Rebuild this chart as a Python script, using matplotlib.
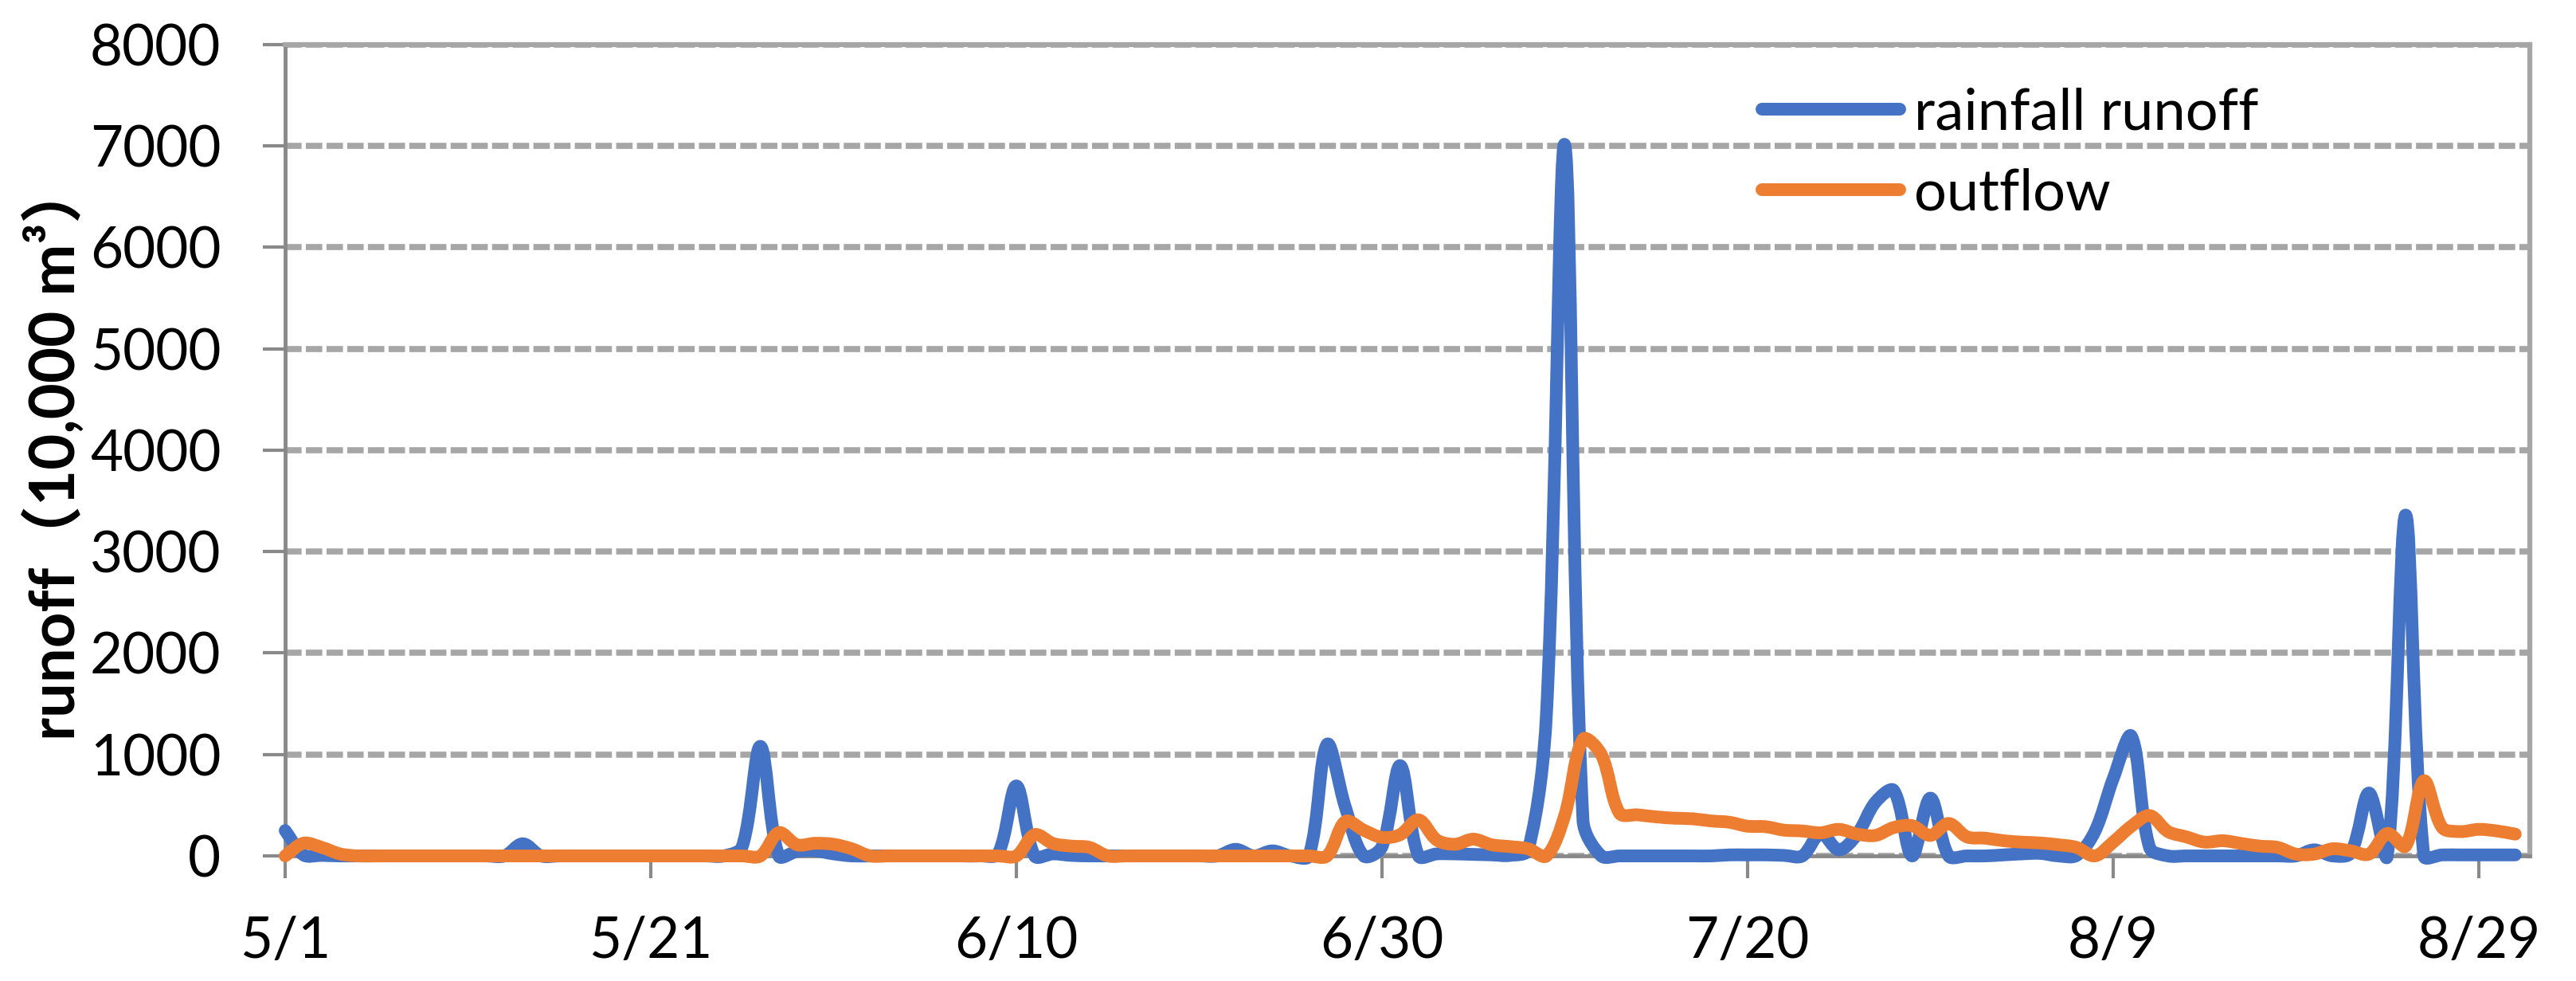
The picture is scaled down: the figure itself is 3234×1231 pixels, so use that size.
import numpy as np
import matplotlib
matplotlib.use('Agg')
import matplotlib.pyplot as plt
from matplotlib.path import Path
from matplotlib.patches import PathPatch
from matplotlib.lines import Line2D

plt.rcParams['font.family'] = ['Lato', 'Noto Sans CJK SC', 'DejaVu Sans']

# daily values, 5/1 .. 8/31 (10,000 m3)
runoff = [
    250, 10, 5, 0, 0, 0, 0, 0, 0, 0,
    0, 0, 0, 120, 0, 0, 0, 0, 0, 0,
    0, 0, 0, 0, 0, 90, 1080, 0, 45, 50,
    20, 0, 0, 0, 0, 0, 0, 0, 0, 20,
    690, 0, 20, 5, 0, 0, 0, 0, 0, 0,
    0, 0, 65, 0, 50, 0, 0, 1100, 480, 0,
    90, 890, 0, 20, 20, 15, 10, 5, 60, 1400,
    7010, 350, 0, 0, 0, 0, 0, 0, 0, 10,
    10, 10, 5, 0, 220, 60, 215, 530, 645, 0,
    570, 0, 0, 0, 10, 20, 25, 0, 5, 240,
    760, 1180, 80, 0, 0, 0, 0, 0, 0, 0,
    0, 60, 0, 30, 620, 0, 3360, 0, 10, 10,
    10, 10, 10]
outflow = [
    0, 125, 84, 20, 0, 0, 0, 0, 0, 0,
    0, 0, 0, 0, 0, 0, 0, 0, 0, 0,
    0, 0, 0, 0, 0, 0, 0, 230, 110, 125,
    115, 70, 0, 0, 0, 0, 0, 0, 0, 0,
    0, 210, 123, 97, 84, 0, 0, 0, 0, 0,
    0, 0, 0, 0, 0, 0, 0, 0, 340, 254,
    183, 210, 356, 157, 115, 165, 110, 92, 70, 0,
    400, 1150, 1000, 420, 405, 385, 372, 366, 345, 332,
    293, 288, 254, 246, 228, 262, 215, 202, 280, 298,
    202, 320, 188, 175, 150, 136, 128, 110, 84, 0,
    136, 293, 398, 240, 188, 136, 150, 123, 97, 84,
    18, 18, 70, 50, 18, 222, 97, 740, 280, 240,
    262, 246, 215]

tick_days = [0, 20, 40, 60, 80, 100, 120]
tick_labels = ['5/1', '5/21', '6/10', '6/30', '7/20', '8/9', '8/29']
series_names = ['rainfall runoff', 'outflow']
colors = ['#4472C4', '#ED7D31']

days = np.arange(len(runoff))

W, H = 3234, 1231
ax_rect = [0.1107, 0.1275, 0.8714, 0.8273]
xmax, ymax = 122.8, 8000


def smooth_path(x, y, sx, sy):
    # spreadsheet-style smoothed line: bezier segments, tangents scaled by chord length
    px = np.asarray(x, float) * sx
    py = np.asarray(y, float) * sy
    n = len(px)

    def dist(i, j):
        return np.hypot(px[j] - px[i], py[j] - py[i])

    verts = [(x[0], y[0])]
    codes = [Path.MOVETO]
    for i in range(n - 1):
        a = max(i - 1, 0)
        b = min(i + 2, n - 1)
        d01, d12, d23 = dist(a, i), dist(i, i + 1), dist(i + 1, b)
        f1 = d12 / (d01 + d12) if d01 + d12 > 0 else 0
        f2 = d12 / (d12 + d23) if d12 + d23 > 0 else 0
        c1 = (px[i] + (px[i + 1] - px[a]) * f1 / 3, py[i] + (py[i + 1] - py[a]) * f1 / 3)
        c2 = (px[i + 1] - (px[b] - px[i]) * f2 / 3, py[i + 1] - (py[b] - py[i]) * f2 / 3)
        verts += [(c1[0] / sx, c1[1] / sy), (c2[0] / sx, c2[1] / sy), (x[i + 1], y[i + 1])]
        codes += [Path.CURVE4] * 3
    return Path(verts, codes)


fig = plt.figure(figsize=(W / 100, H / 100), dpi=100)
ax = fig.add_axes(ax_rect)

sx = W * ax_rect[2] / xmax
sy = H * ax_rect[3] / ymax

lw = 11.5
for vals, c, z in zip([runoff, outflow], colors, [4, 5]):
    p = PathPatch(smooth_path(days, vals, sx, sy), fill=False,
                  edgecolor=c, lw=lw, capstyle='round', joinstyle='round',
                  zorder=z, clip_on=False)
    ax.add_patch(p)

ax.set_xlim(0, xmax)
ax.set_ylim(0, ymax)
ax.set_yticks(np.arange(0, 8001, 1000))
ax.set_xticks(tick_days)
ax.set_xticklabels(tick_labels)

ax.yaxis.grid(True, color='#A6A6A6', linewidth=5.5, linestyle=(0, (2.7, 0.7)))
ax.set_axisbelow(True)

for s in ['left', 'bottom']:
    ax.spines[s].set_color('#898989')
    ax.spines[s].set_linewidth(3.5)
for s in ['top', 'right']:
    ax.spines[s].set_color('#A6A6A6')
    ax.spines[s].set_linewidth(4.5)

ax.tick_params(axis='both', direction='out', length=20, width=3, color='#898989',
               labelsize=51, labelcolor='black')
ax.tick_params(axis='y', pad=38)
ax.tick_params(axis='x', pad=34)

fig.text(70 / W, 1 - 565 / H, 'runoff（10,000 m³）', rotation=90,
         ha='center', va='center', fontsize=56, fontweight='bold')

handles = [Line2D([], [], color=c, lw=lw, solid_capstyle='round') for c in colors]
ax.legend(handles, series_names, loc='upper left', bbox_to_anchor=(0.684, 0.911),
          bbox_transform=fig.transFigure, frameon=False, fontsize=52,
          handlelength=2.4, handletextpad=0.25, labelspacing=0.5,
          borderpad=0, borderaxespad=0)

fig.savefig('out.png', dpi=100)
